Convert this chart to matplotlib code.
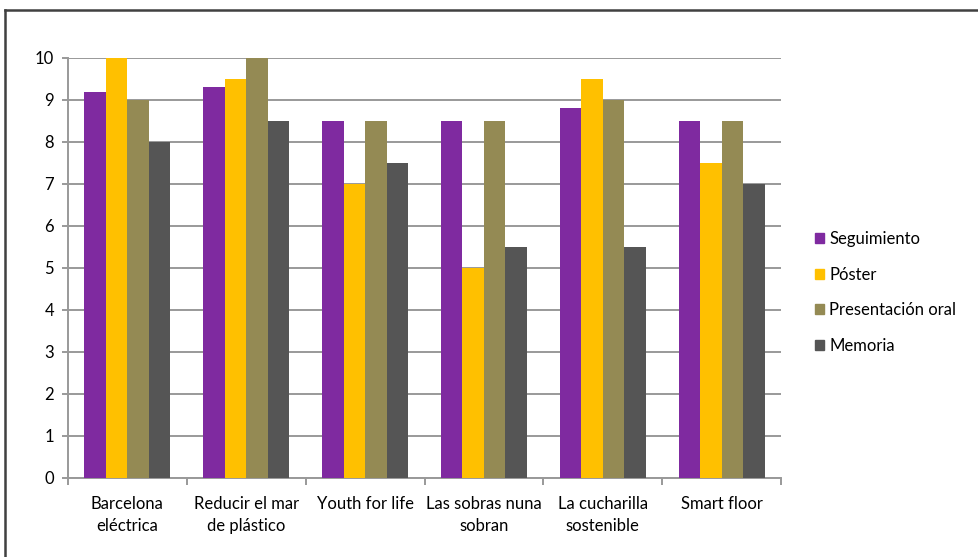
import matplotlib
matplotlib.use("Agg")
import matplotlib.pyplot as plt
from matplotlib.lines import Line2D
from matplotlib.patches import Patch
import numpy as np

plt.rcParams['font.family'] = ['Lato', 'DejaVu Sans']

categories = ["Barcelona\neléctrica", "Reducir el mar\nde plástico", "Youth for life",
              "Las sobras nuna\nsobran", "La cucharilla\nsostenible", "Smart floor"]
series_names = ["Seguimiento", "Póster", "Presentación oral", "Memoria"]
seguimiento = [9.2, 9.3, 8.5, 8.5, 8.8, 8.5]
poster = [10, 9.5, 7, 5, 9.5, 7.5]
presentacion = [9, 10, 8.5, 8.5, 9, 8.5]
memoria = [8, 8.5, 7.5, 5.5, 5.5, 7]
colors = ["#7F2AA0", "#FFC000", "#948A54", "#555555"]

W, H = 979, 557
fig = plt.figure(figsize=(W/100, H/100), dpi=100)
ax = fig.add_axes([68/W, 1-478/H, 713/W, 420/H])

x = np.arange(len(categories))
w = 0.181
for k, vals in enumerate([seguimiento, poster, presentacion, memoria]):
    ax.bar(x + (k-1.5)*w, vals, width=w, color=colors[k], zorder=3, label=series_names[k])

ax.set_xlim(-0.5, len(categories)-0.5)
ax.set_ylim(0, 10)
ax.set_yticks(range(0, 11))
ax.yaxis.grid(True, color="#999999", linewidth=1.4, zorder=0)
ax.set_axisbelow(True)
for s in ["top", "right"]:
    ax.spines[s].set_visible(False)
for s in ["left", "bottom"]:
    ax.spines[s].set_color("#999999")
    ax.spines[s].set_linewidth(1.4)

ax.set_xticks(x)
ax.set_xticklabels(categories, fontsize=12, linespacing=1.47, va="top")
ax.set_xticks(np.arange(-0.5, len(categories)), minor=True)
ax.tick_params(axis="x", which="major", length=0, pad=13)
ax.tick_params(axis="x", which="minor", length=5, color="#999999", width=1.4)
ax.tick_params(axis="y", length=4, color="#999999", width=1.4, pad=6, labelsize=12)

handles = [Patch(color=c) for c in colors]
fig.legend(handles, series_names, loc="center left", bbox_to_anchor=(800/W, 1-292.5/H),
           frameon=False, fontsize=12, handlelength=0.55, handleheight=0.55,
           handletextpad=0.3, labelspacing=1.17)

fig.add_artist(Line2D([5/W, 1], [1-10/H, 1-10/H], color="#404040", linewidth=1.8, transform=fig.transFigure))
fig.add_artist(Line2D([5.5/W, 5.5/W], [0, 1-10/H], color="#404040", linewidth=1.8, transform=fig.transFigure))

fig.savefig("out.png", dpi=100)
